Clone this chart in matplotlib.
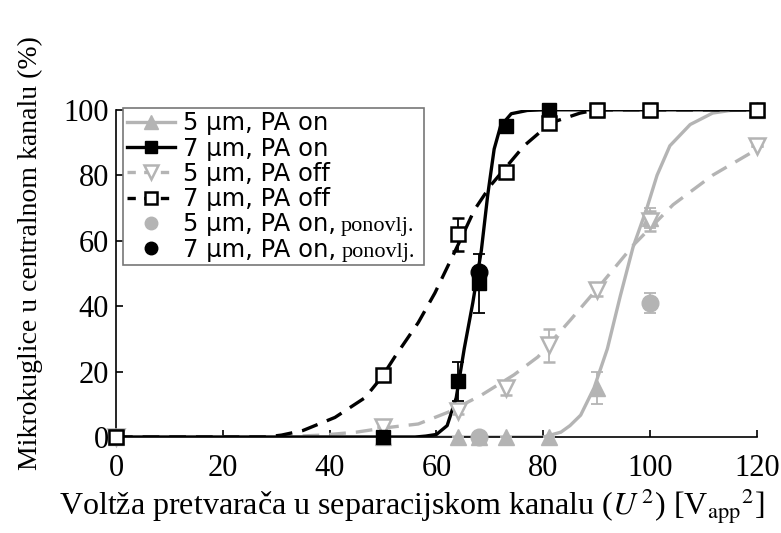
import numpy as np
import matplotlib
matplotlib.use("Agg")
import matplotlib.pyplot as plt

plt.rcParams['mathtext.fontset'] = 'stix'

GRAY = '#b4b4b4'

### Measured points
x_pts = [0, 50, 64, 68, 73, 81, 90, 100, 120]
# 5 um, PA on  (filled triangles)
y5_on = [0, 0, 0, 0, 0, 0, 15, 67, 100]
e5_on = [0, 0, 0, 0, 0, 0, 5, 3, 0]
# 7 um, PA on  (filled squares)
y7_on = [0, 0, 17, 47, 95, 100, 100, 100, 100]
e7_on = [0, 0, 6, 9, 2, 0, 0, 0, 0]
# 5 um, PA off (open down triangles)
x5_off = [0, 50, 64, 73, 81, 90, 100, 120]
y5_off = [0, 3, 8, 15, 28, 45, 66, 89]
e5_off = [0, 0, 1, 2, 5, 2, 3, 0]
# 7 um, PA off (open squares)
x7_off = [0, 50, 64, 73, 81, 90, 100, 120]
y7_off = [0, 19, 62, 81, 96, 100, 100, 100]
e7_off = [0, 0, 5, 0, 0, 0, 0, 0]
# repeated runs
x5_rep = [68, 100]
y5_rep = [0, 41]
e5_rep = [0, 3]
x7_rep = [68]
y7_rep = [50.5]

### Fitted curves
fx_7on = [0, 56, 58, 60, 62, 63.7, 65.2, 66.8, 68.4, 69.6, 70.8, 72, 74, 77, 80, 120]
fy_7on = [0, 0, 0.3, 0.8, 3.5, 12, 27, 41, 57, 74, 88, 95, 98.8, 99.8, 100, 100]
fx_5on = [0, 80, 83.3, 85, 87, 89.5, 92, 94.4, 96.8, 99.4, 101.3, 103.7, 107.5, 111.7, 115, 120]
fy_5on = [0, 0, 1.5, 3.5, 6.7, 15, 27, 43, 58, 70, 80, 89, 95.5, 99, 99.8, 100]
fx_5off = [0, 30, 38.6, 45, 50.3, 56.6, 62.2, 68.4, 74.5, 79, 85.2, 90.7, 96.9, 104.3, 111.7, 120.5]
fy_5off = [0, 0, 0.6, 1.5, 2.8, 4, 7.6, 12.8, 19, 24.5, 36, 46.5, 58.7, 71, 80, 88.4]
fx_7off = [0, 28, 31, 35, 41, 46.6, 49.8, 52.2, 56.6, 59.7, 64.3, 67.1, 70.2, 76.4, 81.4, 86.9, 90, 120]
fy_7off = [0, 0, 0.6, 2, 6, 12, 18.4, 24.5, 35, 44, 59.6, 69.4, 77, 89, 96, 99, 100, 100]

fig = plt.figure(figsize=(7.81, 5.33), dpi=100)
ax = fig.add_axes([0.1485, 0.180, 0.8207, 0.614])

dash = (0, (5, 3))
ms_sq, ms_tri, ms_dot = 9.5, 11, 12

# fitted curves
ax.plot(fx_5off, fy_5off, color=GRAY, lw=2.4, linestyle=dash, zorder=2)
ax.plot(fx_5on, fy_5on, color=GRAY, lw=2.4, zorder=2)
ax.plot(fx_7off, fy_7off, color='black', lw=2.4, linestyle=dash, zorder=3)
ax.plot(fx_7on, fy_7on, color='black', lw=2.4, zorder=3)

# data points with error bars
eb = dict(capsize=4, elinewidth=1.3, capthick=1.3, linestyle='none', clip_on=False)
ax.errorbar(x_pts, y5_on, yerr=e5_on, color=GRAY, marker='^', ms=ms_tri, zorder=4, **eb)
ax.errorbar(x5_off, y5_off, yerr=e5_off, color=GRAY, marker='v', ms=ms_tri, mfc='white',
            mec=GRAY, mew=1.8, zorder=4, **eb)
ax.errorbar(x5_rep, y5_rep, yerr=e5_rep, color=GRAY, marker='o', ms=ms_dot, zorder=4, **eb)
ax.errorbar(x_pts, y7_on, yerr=e7_on, color='black', marker='s', ms=ms_sq, zorder=5, **eb)
ax.errorbar(x7_off, y7_off, yerr=e7_off, color='black', marker='s', ms=ms_sq, mfc='white',
            mec='black', mew=1.8, zorder=6, **eb)
ax.plot(x7_rep, y7_rep, color='black', marker='o', ms=ms_dot, linestyle='none', zorder=6)

# legend handles
h1, = ax.plot([], [], color=GRAY, lw=2.4, marker='^', ms=10)
h2, = ax.plot([], [], color='black', lw=2.4, marker='s', ms=9)
h3, = ax.plot([], [], color=GRAY, lw=2.4, linestyle=(0, (2.5, 2.5)), marker='v', ms=10, mfc='white', mew=1.8)
h4, = ax.plot([], [], color='black', lw=2.4, linestyle=(0, (2.5, 2.5)), marker='s', ms=9, mfc='white', mew=1.8)
h5, = ax.plot([], [], color=GRAY, marker='o', ms=9, linestyle='none')
h6, = ax.plot([], [], color='black', marker='o', ms=9, linestyle='none')
leg_fs = 17.5
# first label padded with spaces so the frame also holds the "ponovlj." notes
labels = ['5 µm, PA on' + ' ' * 12, '7 µm, PA on', '5 µm, PA off', '7 µm, PA off',
          '5 µm, PA on,', '7 µm, PA on,']
leg = ax.legend([h1, h2, h3, h4, h5, h6], labels, loc='upper left',
                bbox_to_anchor=(0.011, 1.006), prop={'family': 'DejaVu Sans', 'size': leg_fs},
                frameon=True, fancybox=False, edgecolor='#777777', framealpha=1,
                handlelength=2.0, handletextpad=0.3, labelspacing=0.05,
                borderpad=0.15, borderaxespad=0, numpoints=1)
leg.get_frame().set_linewidth(1.2)
leg.set_zorder(10)
for t in leg.get_texts()[4:]:
    ax.annotate('ponovlj.', xy=(1, 0), xycoords=t,
                xytext=(4, 0.2 * leg_fs), textcoords='offset points',
                ha='left', va='baseline', family='Liberation Serif', fontsize=16, zorder=11)

# axes
ax.set_xlim(0, 120)
ax.set_ylim(0, 100)
ax.set_xticks([0, 20, 40, 60, 80, 100, 120])
ax.set_yticks([0, 20, 40, 60, 80, 100])
ax.spines['top'].set_visible(False)
ax.spines['right'].set_visible(False)
for s in ['left', 'bottom']:
    ax.spines[s].set_linewidth(1.2)
ax.tick_params(direction='in', length=5, width=1.2, labelsize=22)
ax.tick_params(axis='x', pad=12)
ax.tick_params(axis='y', pad=5)
for lab in ax.get_xticklabels() + ax.get_yticklabels():
    lab.set_family('Liberation Serif')

ax.set_xlabel(r'Voltža pretvarača u separacijskom kanalu ($\mathit{U}^{\,2}$) [V$_{\mathrm{app}}$$^{2}$]',
              family='Liberation Serif', fontsize=23)
ax.set_ylabel('Mikrokuglice u centralnom kanalu (%)', family='Liberation Serif', fontsize=20)
ax.xaxis.set_label_coords(0.462, -0.15)
ax.yaxis.set_label_coords(-0.114, 0.563)

fig.savefig('out.png', dpi=100)
